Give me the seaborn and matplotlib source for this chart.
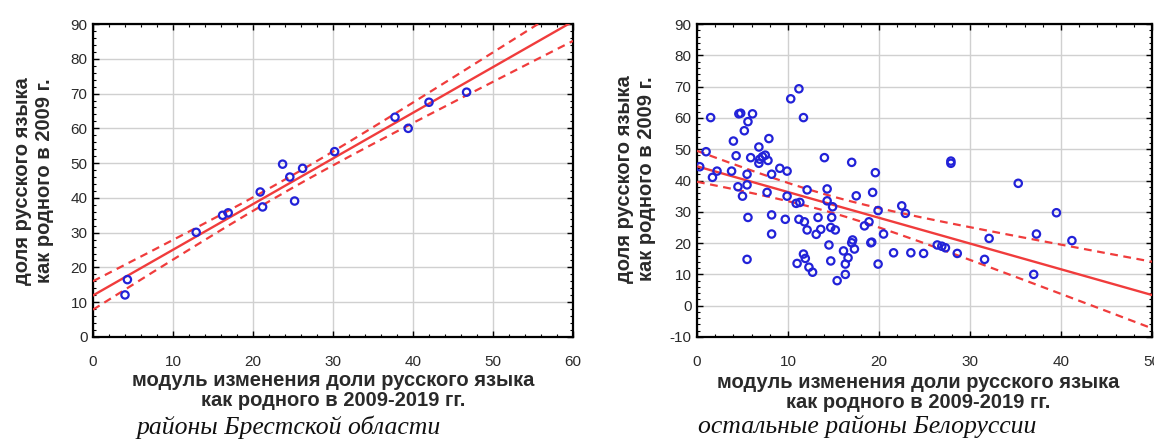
import numpy as np
import pandas as pd
import matplotlib
matplotlib.use("Agg")
import matplotlib.pyplot as plt
import seaborn as sns
from matplotlib.ticker import MultipleLocator

# ---------------- data ----------------
x_brest = [4.0, 4.3, 12.9, 16.2, 16.9, 20.9, 21.2, 23.7, 24.6, 25.2, 26.2, 30.2,
           37.75, 39.4, 42.0, 46.7]
y_brest = [12.1, 16.5, 30.1, 35.0, 35.7, 41.7, 37.4, 49.7, 46.0, 39.1, 48.5, 53.3,
           63.2, 60.0, 67.5, 70.4]

x_other = [11.2, 10.3, 1.5, 4.6, 4.8, 6.1, 11.7, 5.6, 5.2, 7.9, 4.0, 6.8, 1.0, 4.3, 5.9,
           6.9, 7.5, 7.8, 6.8, 7.2,
           14.0, 17.0, 19.6, 9.1, 9.9, 2.2, 3.8, 5.5, 8.2, 1.7, 0.3,
           4.5, 5.5, 5.0, 7.7, 9.9, 12.1, 10.9, 11.3, 14.3, 14.3, 14.9, 17.5, 19.3, 19.9,
           22.5, 22.9, 5.6, 8.2, 9.7, 11.2, 11.8, 13.3, 14.8, 12.1, 13.6, 13.1, 14.7, 15.2,
           18.4, 18.9, 20.5, 8.2, 17.1, 17.0, 17.3, 14.5, 16.1, 16.6, 16.3, 14.7, 19.1, 19.2,
           19.9, 16.3, 15.4, 11.7, 11.9, 11.0, 12.3, 12.7, 5.5, 21.6, 23.5,
           35.3, 39.5, 37.3, 41.2, 37.0, 32.1, 31.6, 26.4, 26.9, 27.3, 28.6, 24.9, 27.9, 27.9]
y_other = [69.3, 66.1, 60.1, 61.3, 61.5, 61.3, 60.1, 58.8, 55.9, 53.4, 52.6, 50.7, 49.2, 47.9, 47.3,
           46.8, 48.1, 46.4, 45.5, 47.6,
           47.3, 45.8, 42.5, 43.9, 43.0, 43.0, 43.0, 42.0, 42.0, 41.0, 44.4,
           38.0, 38.6, 35.0, 36.2, 35.0, 37.0, 32.7, 33.0, 37.3, 33.5, 31.6, 35.1, 36.2, 30.4,
           31.9, 29.5, 28.2, 29.0, 27.6, 27.6, 26.8, 28.2, 28.2, 24.2, 24.4, 22.8, 25.0, 24.2,
           25.5, 26.8, 22.9, 22.9, 21.0, 20.1, 18.1, 19.4, 17.5, 15.3, 13.3, 14.3, 20.1, 20.3,
           13.3, 10.0, 8.0, 16.5, 15.1, 13.5, 12.3, 10.7, 14.8, 16.9, 16.9,
           39.1, 29.7, 22.9, 20.8, 10.0, 21.5, 14.8, 19.4, 19.0, 18.5, 16.7, 16.7, 45.5, 46.2]

x_ticks_left = [0, 10, 20, 30, 40, 50, 60]
y_ticks_left = [0, 10, 20, 30, 40, 50, 60, 70, 80, 90]
x_ticks_right = [0, 10, 20, 30, 40, 50]
y_ticks_right = [-10, 0, 10, 20, 30, 40, 50, 60, 70, 80, 90]

ylabel_lines = ["доля русского языка", "как родного в 2009 г."]
xlabel_lines = ["модуль изменения доли русского языка", "как родного в 2009-2019 гг."]
caption_left = "районы Брестской области"
caption_right = "остальные районы Белоруссии"

# t critical values (95 %, two-sided) for df = n - 2
t_left = 2.145   # df = 14
t_right = 1.985  # df ~ 98

# ---------------- style ----------------
sns.set_theme(style="white")
plt.rcParams['font.family'] = ['Liberation Sans', 'DejaVu Sans']

BLUE = "#2222d8"
RED = "#f03c3c"
TXT = "#2a2a2a"

fig = plt.figure(figsize=(11.54, 4.45), dpi=100)
W, H = 1154, 445


def add_axes(x0, x1, y0, y1):
    return fig.add_axes([x0 / W, 1 - y1 / H, (x1 - x0) / W, (y1 - y0) / H])


def fit_band(x, y, xs, tval):
    x = np.asarray(x, float)
    y = np.asarray(y, float)
    n = len(x)
    b, a = np.polyfit(x, y, 1)
    yhat = a + b * x
    s = np.sqrt(np.sum((y - yhat) ** 2) / (n - 2))
    sxx = np.sum((x - x.mean()) ** 2)
    fit = a + b * xs
    se = s * np.sqrt(1.0 / n + (xs - x.mean()) ** 2 / sxx)
    return fit, fit - tval * se, fit + tval * se


def panel(ax, x, y, xlim, ylim, xt, yt, tval):
    df = pd.DataFrame({"x": x, "y": y})
    xs = np.linspace(xlim[0], xlim[1], 200)
    fit, lo, hi = fit_band(x, y, xs, tval)
    lines = pd.DataFrame({"x": xs, "fit": fit, "lo": lo, "hi": hi})
    sns.lineplot(data=lines, x="x", y="fit", ax=ax, color=RED, lw=1.7, zorder=3)
    sns.lineplot(data=lines, x="x", y="lo", ax=ax, color=RED, lw=1.6, zorder=3,
                 linestyle=(0, (3.5, 2.5)))
    sns.lineplot(data=lines, x="x", y="hi", ax=ax, color=RED, lw=1.6, zorder=3,
                 linestyle=(0, (3.5, 2.5)))
    sns.scatterplot(data=df, x="x", y="y", ax=ax, marker="o", s=28,
                    facecolors="none", edgecolor=BLUE, linewidth=1.6, zorder=4)
    ax.set_xlim(*xlim)
    ax.set_ylim(*ylim)
    ax.set_xticks(xt)
    ax.set_yticks(yt)
    ax.set_xticklabels([str(v) for v in xt])
    ax.set_yticklabels([str(v) for v in yt])
    ax.xaxis.set_minor_locator(MultipleLocator(2))
    ax.yaxis.set_minor_locator(MultipleLocator(2))
    ax.grid(True, which="major", color="#d0d0d0", lw=1.0)
    ax.set_axisbelow(True)
    ax.tick_params(which="both", direction="in", top=True, right=True,
                   bottom=True, left=True, color="black")
    ax.tick_params(which="major", length=4, width=1)
    ax.tick_params(which="minor", length=2.5, width=0.8)
    ax.tick_params(axis="x", which="major", pad=13, labelsize=11, labelcolor=TXT)
    ax.tick_params(axis="y", which="major", pad=4, labelsize=11, labelcolor=TXT)
    for sp in ax.spines.values():
        sp.set_color("black")
        sp.set_linewidth(1.6)
        sp.set_visible(True)
    ax.set_xlabel("")
    ax.set_ylabel("")


ax1 = add_axes(93, 573, 24, 337)
panel(ax1, x_brest, y_brest, (0, 60), (0, 90), x_ticks_left, y_ticks_left, t_left)
ax2 = add_axes(697, 1152, 24, 337)
panel(ax2, x_other, y_other, (0, 50), (-10, 90), x_ticks_right, y_ticks_right, t_right)

LAB = dict(fontsize=14.5, color=TXT, fontweight="bold")

# y labels
for xline, txt in zip((23, 45), ylabel_lines):
    fig.text(xline / W, 1 - 181 / H, txt, rotation=90, ha="center", va="center", **LAB)
for xline, txt in zip((625, 647), ylabel_lines):
    fig.text(xline / W, 1 - 179 / H, txt, rotation=90, ha="center", va="center", **LAB)

# x labels
for yline, txt in zip((380, 401), xlabel_lines):
    fig.text(333 / W, 1 - yline / H, txt, ha="center", va="center", **LAB)
for yline, txt in zip((382, 403), xlabel_lines):
    fig.text(918 / W, 1 - yline / H, txt, ha="center", va="center", **LAB)

# captions
CAP = dict(ha="center", va="center", fontsize=18.5, style="italic",
           family=["Liberation Serif", "DejaVu Serif"], color="#111111")
fig.text(289 / W, 1 - 427 / H, caption_left, **CAP)
fig.text(867 / W, 1 - 427 / H, caption_right, **CAP)

fig.savefig("out.png", dpi=100)
